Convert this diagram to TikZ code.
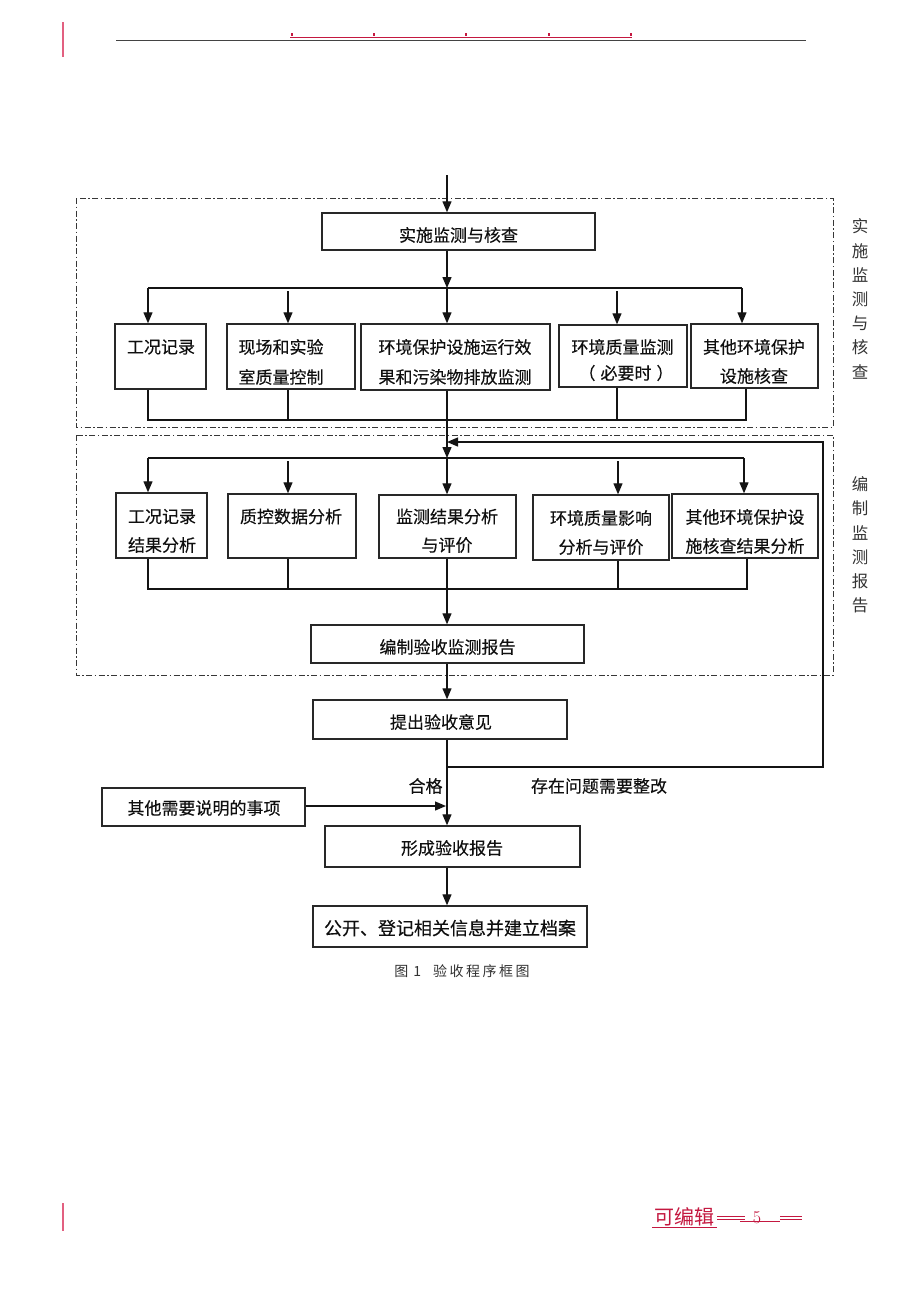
\documentclass[tikz,border=0pt]{standalone}
\usepackage{fontspec}
\newfontfamily\cjk[FakeBold=0.2]{Noto Sans CJK SC}
\newfontfamily\cjkside{Noto Sans CJK SC}
\usetikzlibrary{arrows.meta}
\definecolor{linec}{RGB}{20,20,20}
\definecolor{boxc}{RGB}{40,40,40}
\definecolor{textc}{RGB}{15,15,15}
\definecolor{redc}{RGB}{196,24,64}
\definecolor{pinkc}{RGB}{226,96,128}
\definecolor{dashc}{RGB}{55,55,55}
\tikzset{
  box/.style={draw=boxc, line width=1.4pt, inner sep=0pt, fill=none},
  txt/.style={font=\cjk\fontsize{17}{20}\selectfont, inner sep=0pt, text=textc},
  side/.style={font=\cjkside\fontsize{16.5}{24.2}\selectfont, inner sep=0pt, text=textc!85, align=center},
  ln/.style={draw=linec, line width=1.3pt},
  arr/.style={draw=linec, line width=1.3pt, -{Triangle[length=11pt,width=9pt]}},
  frame/.style={draw=dashc, line width=1pt, dash pattern=on 6pt off 2.5pt on 1.5pt off 2.5pt},
}
\begin{document}
\begin{tikzpicture}[x=1pt,y=-1pt]
\useasboundingbox (0,0) rectangle (920,1302);
\fill[white] (0,0) rectangle (920,1302);

% header
\draw[pinkc, line width=1.6pt] (63,22) -- (63,57);
\draw[redc, line width=0.9pt] (290,37.3) -- (632,37.3);
\foreach \xx in {292,374,466,549,631} \fill[redc] (\xx-0.9,33) rectangle (\xx+0.9,35.5);
\draw[linec!80, line width=1.6pt] (116,40.5) -- (806,40.5);

% footer
\draw[pinkc, line width=1.6pt] (63,1203) -- (63,1231);
\node[font=\cjkside\fontsize{20}{22}\selectfont, text=redc, inner sep=0pt] (foot) at (684.5,1217) {可编辑};
\draw[redc, line width=0.8pt] (652,1227.5) -- (717,1227.5);
\draw[redc, line width=0.8pt] (717,1216.5) -- (745,1216.5) (717,1219) -- (745,1219);
\draw[redc, line width=0.8pt] (740,1221.5) -- (780,1221.5);
\node[font=\fontsize{18}{20}\selectfont, text=redc, inner sep=0pt] (pg) at (757,1218) {5};
\draw[redc, line width=0.8pt] (780,1216.5) -- (802,1216.5) (780,1219) -- (802,1219);

% dash-dot frames
\draw[frame] (76,198) rectangle (833,427);
\draw[frame] (76,435) rectangle (833,675);

% side labels
\node[side] (s1) at (860,299) {实\\施\\监\\测\\与\\核\\查};
\node[side] (s2) at (860,545) {编\\制\\监\\测\\报\\告};

% boxes
\node[box, minimum width=273pt, minimum height=37pt] (b0) at (458.5,231.5) {};
\node[box, minimum width=91pt, minimum height=65pt] (a1) at (160.5,356.5) {};
\node[box, minimum width=128pt, minimum height=65pt] (a2) at (291,356.5) {};
\node[box, minimum width=189pt, minimum height=66pt] (a3) at (455.5,357) {};
\node[box, minimum width=128pt, minimum height=62pt] (a4) at (623,356) {};
\node[box, minimum width=127pt, minimum height=64pt] (a5) at (754.5,356) {};

\node[box, minimum width=91pt, minimum height=65pt] (c1) at (161.5,525.5) {};
\node[box, minimum width=128pt, minimum height=64pt] (c2) at (292,526) {};
\node[box, minimum width=137pt, minimum height=63pt] (c3) at (447.5,526.5) {};
\node[box, minimum width=136pt, minimum height=65pt] (c4) at (601,527.5) {};
\node[box, minimum width=146pt, minimum height=64pt] (c5) at (745,526) {};

\node[box, minimum width=273pt, minimum height=38pt] (rep) at (447.5,644) {};
\node[box, minimum width=254pt, minimum height=39pt] (opi) at (440,719.5) {};
\node[box, minimum width=203pt, minimum height=38pt] (oth) at (203.5,807) {};
\node[box, minimum width=255pt, minimum height=41pt] (fin) at (452.5,846.5) {};
\node[box, minimum width=274pt, minimum height=41pt] (pub) at (450,926.5) {};

% texts
\node[txt] (tb0) at (458.5,235) {实施监测与核查};
\node[txt] (ta1) at (161,347) {工况记录};
\node[txt] (ta2a) at (281,347) {现场和实验};
\node[txt] (ta2b) at (281,377) {室质量控制};
\node[txt] (ta3a) at (455,347) {环境保护设施运行效};
\node[txt] (ta3b) at (455,377) {果和污染物排放监测};
\node[txt] (ta4a) at (622.5,347) {环境质量监测};
\node[txt] (ta4b) at (626,373) {（\kern5pt 必要时\kern5pt ）};
\node[txt] (ta5a) at (754,347) {其他环境保护};
\node[txt] (ta5b) at (754,376) {设施核查};

\node[txt] (tc1a) at (162,516.5) {工况记录};
\node[txt] (tc1b) at (162,545) {结果分析};
\node[txt] (tc2) at (291,516.5) {质控数据分析};
\node[txt] (tc3a) at (447,516.5) {监测结果分析};
\node[txt] (tc3b) at (447,545) {与评价};
\node[txt] (tc4a) at (601,518) {环境质量影响};
\node[txt] (tc4b) at (601,547) {分析与评价};
\node[txt] (tc5a) at (745,517) {其他环境保护设};
\node[txt] (tc5b) at (745,546) {施核查结果分析};

\node[txt] (trep) at (447.5,647) {编制验收监测报告};
\node[txt] (topi) at (441,722) {提出验收意见};
\node[txt] (toth) at (204,808) {其他需要说明的事项};
\node[txt] (tfin) at (452,848) {形成验收报告};
\node[txt, font=\cjk\fontsize{18}{20}\selectfont] (tpub) at (450,928) {公开、登记相关信息并建立档案};

\node[txt] (ok) at (425.6,786) {合格};
\node[txt] (bad) at (599,786) {存在问题需要整改};

\node[inner sep=0pt, font=\cjkside\fontsize{14}{16}\selectfont, text=textc!85] (cap) at (462,971)
  {图\kern5pt 1\kern12pt 验\kern2.5pt 收\kern2.5pt 程\kern2.5pt 序\kern2.5pt 框\kern2.5pt 图};

% connectors: top part
\coordinate (in0) at (447,175);
\draw[arr] (in0) -- (in0 |- b0.north);
\coordinate (j1) at (447,288);
\draw[arr] (b0.south -| in0) -- (j1);
\coordinate (h1a) at (148,288);
\coordinate (h1b) at (742,288);
\draw[ln] (h1a) -- (h1b);
\draw[arr] (h1a) -- (h1a |- a1.north);
\coordinate (d12) at (288,291);
\draw[arr] (d12) -- (d12 |- a2.north);
\draw[arr] (j1) -- (j1 |- a3.north);
\coordinate (d14) at (617,291);
\draw[arr] (d14) -- (d14 |- a4.north);
\draw[arr] (h1b) -- (h1b |- a5.north);

\coordinate (k1) at (148,420);
\coordinate (k2) at (288,420);
\coordinate (k3) at (447,420);
\coordinate (k4) at (617,420);
\coordinate (k5) at (746,420);
\draw[ln] (k1 |- a1.south) -- (k1) -- (k5) -- (k5 |- a5.south);
\draw[ln] (k2 |- a2.south) -- (k2);
\draw[ln] (k3 |- a3.south) -- (k3);
\draw[ln] (k4 |- a4.south) -- (k4);
\coordinate (j2) at (447,458);
\draw[arr] (k3) -- (j2);

% second part
\coordinate (m1) at (148,458);
\coordinate (m5) at (744,458);
\draw[ln] (m1) -- (m5);
\draw[arr] (m1) -- (m1 |- c1.north);
\coordinate (n2) at (288,461);
\draw[arr] (n2) -- (n2 |- c2.north);
\draw[arr] (j2) -- (j2 |- c3.north);
\coordinate (n4) at (618,461);
\draw[arr] (n4) -- (n4 |- c4.north);
\draw[arr] (m5) -- (m5 |- c5.north);

\coordinate (p1) at (148,589);
\coordinate (p2) at (288,589);
\coordinate (p3) at (447,589);
\coordinate (p4) at (618,589);
\coordinate (p5) at (747,589);
\draw[ln] (p1 |- c1.south) -- (p1) -- (p5) -- (p5 |- c5.south);
\draw[ln] (p2 |- c2.south) -- (p2);
\draw[ln] (p3 |- c3.south) -- (p3);
\draw[ln] (p4 |- c4.south) -- (p4);
\draw[arr] (p3) -- (p3 |- rep.north);
\draw[arr] (p3 |- rep.south) -- (p3 |- opi.north);
\draw[arr] (p3 |- opi.south) -- (p3 |- fin.north);

% feedback loop
\coordinate (q1) at (447,767);
\coordinate (q2) at (823,767);
\coordinate (q3) at (823,442);
\coordinate (q4) at (447,442);
\draw[arr] (q1) -- (q2) -- (q3) -- (q4);

\coordinate (r1) at (446,806);
\draw[arr] (oth.east |- r1) -- (r1);
\draw[arr] (p3 |- fin.south) -- (p3 |- pub.north);
\end{tikzpicture}
\end{document}
